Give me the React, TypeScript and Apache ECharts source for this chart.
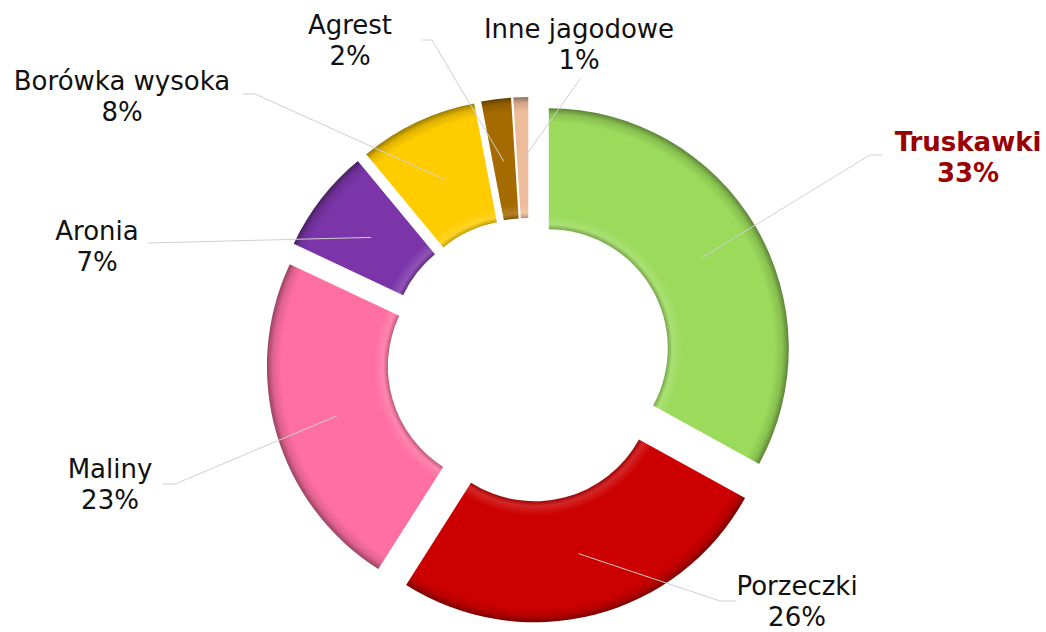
import React, { useEffect, useRef } from "react";
import * as echarts from "echarts";

// ---- data ----
const categories = ["Truskawki", "Porzeczki", "Maliny", "Aronia", "Borówka wysoka", "Agrest", "Inne jagodowe"];
const shares = [33, 26, 23, 7, 8, 2, 1];
const sliceColors = ["#9BDA5B", "#CC0000", "#FF6FA1", "#7B35A9", "#FFCC00", "#A56B00", "#EDBC9A"];

// ---- layout (manual label placement, as in the original) ----
const labelCenters: [number, number][] = [
  [968, 157], [797, 601], [110, 484], [97, 246], [122, 96], [350, 40], [579, 44],
];
// leader line: [elbowX, elbowY, endX]
const leaderEnds: [number, number, number][] = [
  [870, 155, 882], [720, 601, 736], [175, 484, 163], [148, 243, 148], [255, 94, 243], [432, 40, 422], [580, 79, 580],
];

const CX = 529;
const CY = 360;
const R_OUT = 240;
const R_IN = 119;
const OFFSET = 23;
const ANCHOR_R = 200;

function shade(hex: string, f: number): string {
  const n = parseInt(hex.slice(1), 16);
  let r = (n >> 16) & 255, g = (n >> 8) & 255, b = n & 255;
  if (f < 0) {
    r = Math.round(r * (1 + f)); g = Math.round(g * (1 + f)); b = Math.round(b * (1 + f));
  } else {
    r = Math.round(r + (255 - r) * f); g = Math.round(g + (255 - g) * f); b = Math.round(b + (255 - b) * f);
  }
  return `rgb(${r},${g},${b})`;
}

export default function App() {
  const ref = useRef<HTMLDivElement>(null);
  useEffect(() => {
    document.body.style.margin = "0";
    if (!ref.current) return;
    const chart = echarts.init(ref.current, undefined, { renderer: "svg" });
    const total = shares.reduce((a, b) => a + b, 0);
    const ri = R_IN / R_OUT;

    const data = categories.map((name, i) => ({
      name,
      value: shares[i],
      selected: true,
      itemStyle: {
        color: {
          type: "radial",
          x: CX,
          y: CY,
          r: R_OUT,
          global: true,
          colorStops: [
            { offset: ri - 0.005, color: shade(sliceColors[i], -0.3) },
            { offset: ri + 0.02, color: shade(sliceColors[i], 0.15) },
            { offset: ri + 0.06, color: sliceColors[i] },
            { offset: 0.94, color: sliceColors[i] },
            { offset: 0.975, color: shade(sliceColors[i], -0.12) },
            { offset: 1, color: shade(sliceColors[i], -0.4) },
          ],
        },
      },
    }));

    const graphics: any[] = [];
    let cum = 0;
    shares.forEach((v, i) => {
      const mid = ((cum + v / 2) / total) * 2 * Math.PI;
      cum += v;
      const ax = CX + ANCHOR_R * Math.sin(mid);
      const ay = CY - ANCHOR_R * Math.cos(mid);
      const [ex, ey, endX] = leaderEnds[i];
      graphics.push({
        type: "polyline",
        silent: true,
        shape: { points: [[ax, ay], [ex, ey], [endX, ey]] },
        style: { stroke: "#D0D0D0", lineWidth: 1, fill: null },
        z: 10,
      });
      const bold = i === 0;
      graphics.push({
        type: "text",
        x: labelCenters[i][0],
        y: labelCenters[i][1],
        z: 11,
        style: {
          text: `${categories[i]}\n${Math.round((v / total) * 100)}%`,
          align: "center",
          verticalAlign: "middle",
          fontFamily: 'Verdana, "DejaVu Sans", sans-serif',
          fontSize: 26,
          lineHeight: 31,
          fontWeight: bold ? "bold" : "normal",
          fill: bold ? "#9A0000" : "#111111",
        },
      });
    });

    chart.setOption({
      animation: false,
      backgroundColor: "#ffffff",
      series: [
        {
          type: "pie",
          center: [CX, CY],
          radius: [R_IN, R_OUT],
          startAngle: 90,
          clockwise: true,
          selectedMode: "multiple",
          selectedOffset: OFFSET,
          avoidLabelOverlap: false,
          label: { show: false },
          labelLine: { show: false },
          emphasis: { disabled: true },
          select: { itemStyle: {} },
          data,
        },
      ],
      graphic: graphics,
    });
    return () => chart.dispose();
  }, []);
  return <div ref={ref} style={{ width: 1046, height: 632 }} />;
}
